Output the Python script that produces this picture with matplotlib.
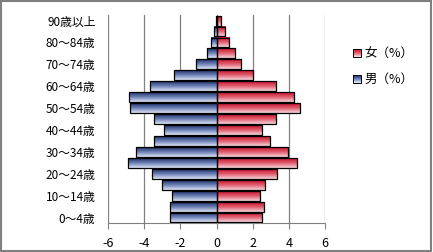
import numpy as np
import matplotlib
matplotlib.use('Agg')
import matplotlib.pyplot as plt
from matplotlib.colors import LinearSegmentedColormap
from matplotlib.patches import Rectangle
from matplotlib.legend_handler import HandlerBase

plt.rcParams['font.family'] = ['Noto Sans CJK JP', 'DejaVu Sans']

# 年齢階級（下から上へ）
ages = ['0～4歳', '5～9歳', '10～14歳', '15～19歳', '20～24歳', '25～29歳',
        '30～34歳', '35～39歳', '40～44歳', '45～49歳', '50～54歳', '55～59歳',
        '60～64歳', '65～69歳', '70～74歳', '75～79歳', '80～84歳', '85～89歳',
        '90歳以上']
male = [-2.58, -2.58, -2.45, -3.04, -3.56, -4.88, -4.46, -3.45, -2.89, -3.45,
        -4.79, -4.83, -3.68, -2.34, -1.16, -0.55, -0.28, -0.15, -0.05]
female = [2.49, 2.63, 2.41, 2.69, 3.37, 4.47, 3.96, 2.98, 2.52, 3.31,
          4.64, 4.29, 3.28, 2.02, 1.33, 1.03, 0.70, 0.48, 0.26]
xticks = [-6, -4, -2, 0, 2, 4, 6]
legend_labels = ['女（%）', '男（%）']

blue_cmap = LinearSegmentedColormap.from_list('b', ['#1c2f68', '#6e82b8', '#dfe5f4'])
red_cmap = LinearSegmentedColormap.from_list('r', ['#c8102a', '#e06070', '#f6d6dc'])

fig = plt.figure(figsize=(4.33, 2.52), dpi=100)
ax = fig.add_axes([0.2494, 0.115, 0.5012, 0.825])

h = 0.9
grad = np.linspace(0, 1, 64).reshape(-1, 1)
y = np.arange(len(ages))

def grad_bars(vals, cmap):
    bars = ax.barh(y, vals, height=h, facecolor='none', edgecolor='black',
                   linewidth=0.9, zorder=3)
    for b in bars:
        x0, y0 = b.get_x(), b.get_y()
        w, hh = b.get_width(), b.get_height()
        ax.imshow(grad, cmap=cmap, aspect='auto', origin='upper',
                  extent=(min(x0, x0 + w), max(x0, x0 + w), y0, y0 + hh), zorder=2)

grad_bars(male, blue_cmap)
grad_bars(female, red_cmap)

ax.set_xlim(-6, 6)
ax.set_ylim(-0.5, len(ages) - 0.5)
ax.set_xticks(xticks)
ax.set_xticklabels([str(t) for t in xticks], fontsize=9)
ax.set_yticks(y[::2])
ax.set_yticklabels(ages[::2], fontsize=8.5)
ax.tick_params(axis='y', length=0, pad=9)
ax.tick_params(axis='x', length=4, pad=6, color='#808080', direction='out')
ax.grid(axis='x', color='#808080', linewidth=0.9, zorder=0)
for s in ['top', 'right', 'left']:
    ax.spines[s].set_visible(False)
ax.spines['bottom'].set_color('#808080')

class GradHandler(HandlerBase):
    def create_artists(self, legend, orig_handle, xdescent, ydescent,
                       width, height, fontsize, trans):
        n = 8
        arts = []
        for i in range(n):
            arts.append(Rectangle((-xdescent, -ydescent + height * (n - 1 - i) / n),
                                  width, height / n, facecolor=orig_handle.cmap(i / (n - 1)),
                                  edgecolor='none', transform=trans))
        arts.append(Rectangle((-xdescent, -ydescent), width, height, facecolor='none',
                              edgecolor='black', linewidth=0.7, transform=trans))
        return arts

class GH:
    def __init__(self, cmap):
        self.cmap = cmap

handles = [GH(red_cmap), GH(blue_cmap)]
fig.legend(handles, legend_labels, handler_map={GH: GradHandler()},
           loc='upper left', bbox_to_anchor=(0.79, 0.855), frameon=False,
           fontsize=9, handlelength=0.6, handleheight=0.6, handletextpad=0.3,
           labelspacing=1.0)

fig.patches.append(Rectangle((0.002, 0.004), 0.994, 0.992, transform=fig.transFigure,
                             fill=False, edgecolor='#808080', linewidth=1.5))

fig.savefig('out.png', dpi=100)
